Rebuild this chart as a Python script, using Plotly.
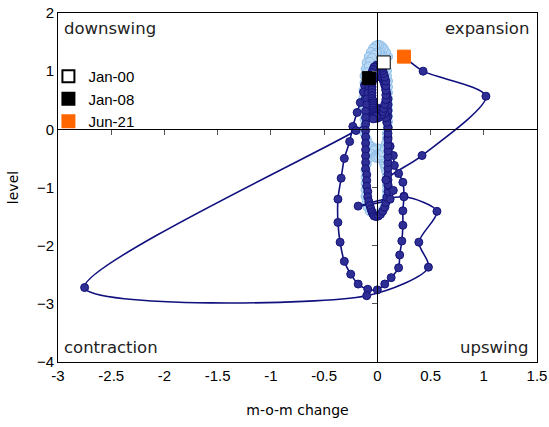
import plotly.graph_objects as go

# Business-cycle clock: month-on-month change (x) against level (y)

# 2000-2007 (Jan-00 .. Dec-07)
early_change = [
    0.06, 0.10, 0.08, 0.06, 0.04, 0.02, 0.00, -0.02, -0.04, -0.06, -0.08, -0.10,
    -0.11, -0.12, -0.12, -0.13, -0.13, -0.13, -0.12, -0.12, -0.12, -0.12, -0.10, -0.08,
    -0.05, -0.03, -0.01, 0.01, 0.00, -0.03, -0.06, -0.08, -0.10, -0.11, -0.11, -0.11,
    -0.11, -0.11, -0.10, -0.09, -0.07, -0.04, -0.01, 0.02, 0.05, 0.07, 0.08, 0.09,
    0.09, 0.09, 0.09, 0.09, 0.08, 0.07, 0.06, 0.05, 0.04, 0.03, 0.02, 0.01,
    0.00, -0.01, -0.02, -0.02, -0.01, 0.01, 0.03, 0.05, 0.07, 0.08, 0.09, 0.09,
    0.10, 0.10, 0.10, 0.10, 0.10, 0.10, 0.10, 0.10, 0.10, 0.09, 0.09, 0.08,
    0.07, 0.06, 0.05, 0.03, 0.02, 0.00, -0.01, -0.03, -0.05, -0.07, -0.08, -0.10,
]
early_level = [
    1.15, 1.25, 1.33, 1.39, 1.43, 1.45, 1.45, 1.43, 1.39, 1.33, 1.25, 1.15,
    1.04, 0.92, 0.80, 0.67, 0.54, 0.41, 0.29, 0.17, 0.05, -0.07, -0.17, -0.25,
    -0.30, -0.33, -0.34, -0.33, -0.33, -0.36, -0.42, -0.50, -0.60, -0.71, -0.82, -0.93,
    -1.04, -1.15, -1.25, -1.34, -1.41, -1.45, -1.46, -1.44, -1.39, -1.32, -1.24, -1.15,
    -1.06, -0.97, -0.88, -0.79, -0.71, -0.64, -0.58, -0.53, -0.49, -0.46, -0.44, -0.43,
    -0.43, -0.44, -0.46, -0.48, -0.49, -0.48, -0.45, -0.40, -0.33, -0.25, -0.16, -0.07,
    0.03, 0.13, 0.23, 0.33, 0.43, 0.53, 0.63, 0.73, 0.83, 0.92, 1.01, 1.09,
    1.16, 1.22, 1.27, 1.30, 1.32, 1.32, 1.31, 1.28, 1.23, 1.16, 1.08, 0.98,
]

# 2008-2021 (Jan-08 .. Jun-21)
late_change = [
    -0.08, -0.12, -0.13, -0.16, -0.19, -0.23, -0.26, -0.31, -0.34, -0.37, -0.37, -0.35,
    -0.31, -0.25, -0.18, -0.09, 0.00, 0.07, 0.13, 0.20, 0.21, 0.23, 0.24, 0.24,
    0.25, 0.24, 0.20, 0.16, 0.15, 0.12, 0.10, 0.10, 0.09, 0.10, 0.10, 0.10,
    0.10, 0.09, 0.08, 0.07, 0.06, 0.05, 0.03, 0.01, -0.02, -0.04, -0.06, -0.08,
    -0.09, -0.10, -0.10, -0.11, -0.11, -0.11, -0.11, -0.11, -0.11, -0.11, -0.11, -0.11,
    -0.11, -0.10, -0.10, -0.10, -0.09, -0.09, -0.08, -0.07, -0.06, -0.05, -0.04, -0.03,
    -0.01, 0.01, 0.03, 0.05, 0.07, 0.08, 0.09, 0.10, 0.10, 0.10, 0.10, 0.10,
    0.10, 0.10, 0.10, 0.10, 0.10, 0.10, 0.10, 0.09, 0.08, 0.07, 0.05, 0.03,
    0.01, -0.01, -0.03, -0.04, -0.04, -0.03, -0.02, 0.00, 0.02, 0.04, 0.05, 0.06,
    0.07, 0.08, 0.08, 0.08, 0.08, 0.08, 0.07, 0.06, 0.05, 0.04, 0.03, 0.02,
    0.01, -0.01, -0.03, -0.04, -0.05, -0.05, -0.05, -0.05, -0.05, -0.05, -0.05, -0.05,
    -0.05, -0.05, -0.04, -0.04, -0.04, -0.04, -0.04, -0.03, -0.03, -0.02, -0.01, -0.01,
    -0.01, -0.04, -0.20, -2.75, -0.10, 0.48, 0.39, 0.56, 0.25, -0.18, 0.12, 0.15,
    0.10, 0.08, 0.42, 1.02, 0.43, 0.25,
]
late_level = [
    0.88, 0.76, 0.64, 0.46, 0.29, 0.05, -0.21, -0.50, -0.84, -1.20, -1.60, -1.94,
    -2.27, -2.49, -2.66, -2.75, -2.76, -2.66, -2.55, -2.38, -2.16, -1.92, -1.65, -1.40,
    -1.15, -0.91, -0.76, -0.62, -0.45, -0.29, -0.14, 0.03, 0.12, 0.22, 0.32, 0.42,
    0.52, 0.61, 0.69, 0.76, 0.82, 0.87, 0.90, 0.91, 0.89, 0.85, 0.79, 0.71,
    0.62, 0.52, 0.42, 0.31, 0.20, 0.09, -0.02, -0.13, -0.24, -0.35, -0.46, -0.57,
    -0.68, -0.78, -0.88, -0.98, -1.07, -1.16, -1.24, -1.31, -1.37, -1.42, -1.46, -1.49,
    -1.50, -1.49, -1.46, -1.41, -1.34, -1.26, -1.17, -1.07, -0.97, -0.87, -0.77, -0.67,
    -0.57, -0.47, -0.37, -0.27, -0.17, -0.07, 0.03, 0.12, 0.20, 0.27, 0.32, 0.35,
    0.36, 0.35, 0.32, 0.28, 0.24, 0.21, 0.19, 0.19, 0.21, 0.25, 0.30, 0.36,
    0.43, 0.51, 0.59, 0.67, 0.75, 0.83, 0.90, 0.96, 1.01, 1.05, 1.08, 1.10,
    1.11, 1.10, 1.07, 1.03, 0.98, 0.93, 0.88, 0.83, 0.78, 0.73, 0.68, 0.63,
    0.58, 0.53, 0.49, 0.45, 0.41, 0.37, 0.33, 0.30, 0.27, 0.25, 0.24, 0.23,
    0.22, 0.18, -0.02, -2.72, -2.86, -2.37, -1.94, -1.41, -1.16, -1.32, -1.20, -1.05,
    -0.95, -0.87, -0.45, 0.57, 1.00, 1.25,
]

x_ticks = [-3, -2.5, -2, -1.5, -1, -0.5, 0, 0.5, 1, 1.5]
x_tick_text = ["-3", "-2.5", "-2", "-1.5", "-1", "-0.5", "0", "0.5", "1", "1.5"]
y_ticks = [-4, -3, -2, -1, 0, 1, 2]
x_range = [-3, 1.5]
y_range = [-4, 2]

quadrants = [
    ("downswing", 0.008, 0.988, "left", "top"),
    ("expansion", 0.988, 0.988, "right", "top"),
    ("contraction", 0.008, 0.008, "left", "bottom"),
    ("upswing", 0.988, 0.008, "right", "bottom"),
]

NAVY = "#10107f"
LIGHT = "#b8d8f3"

fig = go.Figure()

fig.add_trace(go.Scatter(
    x=early_change, y=early_level, mode="lines+markers",
    line=dict(color="#a8cdef", width=1.5, shape="spline", smoothing=0.8),
    marker=dict(size=9, color=LIGHT, line=dict(color="#8dbde8", width=1)),
    showlegend=False, hoverinfo="skip",
))
fig.add_trace(go.Scatter(
    x=late_change, y=late_level, mode="lines+markers",
    line=dict(color=NAVY, width=1.6, shape="spline", smoothing=0.8),
    marker=dict(size=8, color="#2e2e94", line=dict(color="#14147a", width=1)),
    showlegend=False, hoverinfo="skip",
))

markers = [
    ("Jan-00", early_change[0], early_level[0], "white", "black"),
    ("Jan-08", late_change[0], late_level[0], "black", "black"),
    ("Jun-21", late_change[-1], late_level[-1], "#ff6600", "#ff6600"),
]
for name, mx, my, fill, edge in markers:
    fig.add_trace(go.Scatter(
        x=[mx], y=[my], mode="markers", name=name,
        marker=dict(symbol="square", size=13, color=fill, line=dict(color=edge, width=1)),
    ))

# crosshair axes through the origin, carrying the small tick marks
fig.add_trace(go.Scatter(x=[None], y=[None], xaxis="x2", yaxis="y2",
                         showlegend=False, hoverinfo="skip"))

for text, px, py, xa, ya in quadrants:
    fig.add_annotation(
        text=text, x=px, y=py, xref="paper", yref="paper",
        xanchor=xa, yanchor=ya, showarrow=False,
        font=dict(family="DejaVu Sans", size=16.5, color="#222222"),
    )

zero_pos_y = (0 - y_range[0]) / (y_range[1] - y_range[0])
zero_pos_x = (0 - x_range[0]) / (x_range[1] - x_range[0])

fig.update_layout(
    width=549, height=427,
    margin=dict(l=58, r=12, t=13, b=65, autoexpand=False),
    paper_bgcolor="white", plot_bgcolor="white",
    font=dict(family="Liberation Sans, Arial, sans-serif", size=15, color="black"),
    showlegend=True,
    legend=dict(
        x=-0.02, y=0.865, xanchor="left", yanchor="top",
        bgcolor="rgba(0,0,0,0)", font=dict(size=15, color="black"),
        itemsizing="constant", tracegroupgap=0,
    ),
    xaxis=dict(
        range=x_range, tickvals=x_ticks, ticktext=x_tick_text, automargin=False,
        showline=True, mirror=True, linecolor="black", linewidth=1,
        ticks="", showgrid=False, zeroline=False,
        title=dict(text="m-o-m change", font=dict(family="DejaVu Sans", size=14), standoff=22),
    ),
    yaxis=dict(
        range=y_range, tickvals=y_ticks, automargin=False,
        showline=True, mirror=True, linecolor="black", linewidth=1,
        ticks="", showgrid=False, zeroline=False,
        title=dict(text="level", font=dict(family="DejaVu Sans", size=14), standoff=14),
    ),
    xaxis2=dict(
        range=x_range, overlaying="x", anchor="free", position=zero_pos_y,
        tickvals=[t for t in x_ticks if t not in (-3, 0, 1.5)], automargin=False,
        showticklabels=False, ticks="outside", ticklen=5, tickcolor="#555555",
        showline=True, linecolor="black", linewidth=1,
        showgrid=False, zeroline=False,
    ),
    yaxis2=dict(
        range=y_range, overlaying="y", anchor="free", position=zero_pos_x,
        tickvals=[t for t in y_ticks if t not in (-4, 0, 2)], automargin=False,
        showticklabels=False, ticks="outside", ticklen=5, tickcolor="#555555",
        showline=True, linecolor="black", linewidth=1,
        showgrid=False, zeroline=False,
    ),
)

fig.write_html("out.html")
